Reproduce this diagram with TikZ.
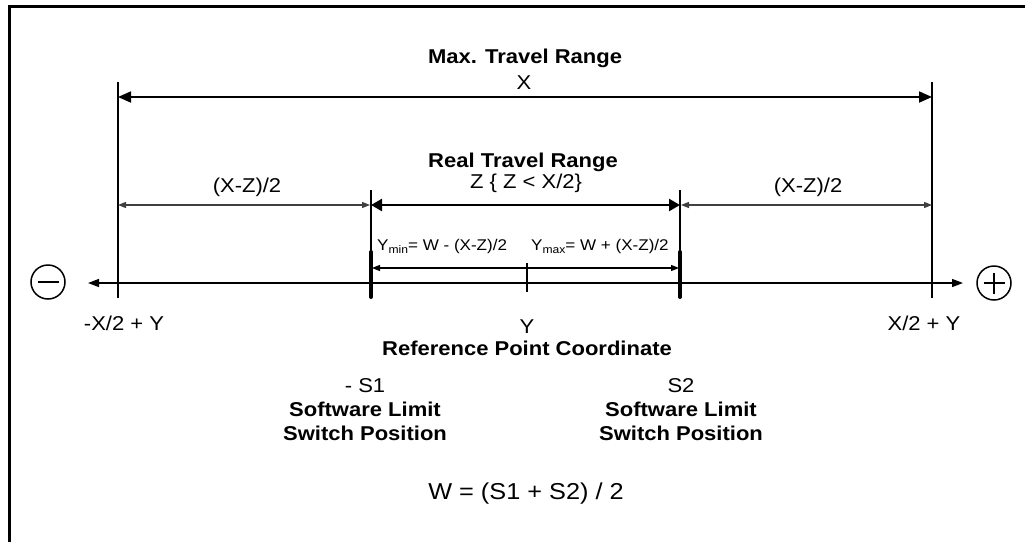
\documentclass[tikz,border=0pt]{standalone}
\usepackage{fontspec}
\setmainfont{Liberation Sans}[FakeStretch=1.1]
\usetikzlibrary{arrows.meta}
\begin{document}
\begin{tikzpicture}[x=1pt,y=-1pt,
  lbl/.style={anchor=base,inner sep=0pt,font=\fontsize{20}{24}\selectfont},
  blbl/.style={anchor=base,inner sep=0pt,font=\fontsize{20}{24}\selectfont\bfseries},
  slbl/.style={anchor=base west,inner sep=0pt,font=\fontsize{15.5}{18}\selectfont},
  bigdim/.style={line width=1.8pt,{Triangle[length=13pt,width=11pt]}-{Triangle[length=13pt,width=11pt]}},
  realdim/.style={line width=2.4pt,{Triangle[length=11pt,width=12pt]}-{Triangle[length=11pt,width=12pt]}},
  smalldim/.style={line width=1.2pt,black!75,{Triangle[length=8pt,width=6pt]}-{Triangle[length=8pt,width=6pt]}},
  axis/.style={line width=1.5pt,{Triangle[length=11pt,width=8pt]}-{Triangle[length=11pt,width=8pt]}},
  ext/.style={line width=1.2pt},
  tick/.style={line width=2.4pt},
  limit/.style={line width=4pt,line cap=round},
  sign/.style={circle,draw,line width=1.5pt,minimum size=34pt,inner sep=0pt}]
\useasboundingbox (0,0) rectangle (1025,542);
% frame
\draw[line width=3pt] (9,542) -- (9,6) -- (1025,6);
% coordinates
\coordinate (Ltop) at (118,82);
\coordinate (Ltk) at (118,268);
\coordinate (Lbot) at (118,298);
\coordinate (Rtop) at (932,82);
\coordinate (Rtk) at (932,268);
\coordinate (Rbot) at (932,298);
\coordinate (S1top) at (371,190);
\coordinate (S1tk) at (371,252);
\coordinate (S1bot) at (371,297);
\coordinate (S2top) at (680,190);
\coordinate (S2tk) at (680,252);
\coordinate (S2bot) at (680,297);
\coordinate (Ytop) at (527,263);
\coordinate (Ybot) at (527,292);
% extension lines and ticks
\draw[ext] (Ltop) -- (Ltk);
\draw[ext] (Rtop) -- (Rtk);
\draw[ext] (S1top) -- (S1tk);
\draw[ext] (S2top) -- (S2tk);
\draw[tick] (Ltk) -- (Lbot);
\draw[tick] (Rtk) -- (Rbot);
\draw[limit] (S1tk) -- (S1bot);
\draw[limit] (S2tk) -- (S2bot);
\draw[ext] (Ytop) -- (Ybot);
% dimension lines
\draw[bigdim] (118,97) -- (932,97);
\draw[realdim] (371,205) -- (680,205);
\draw[smalldim] (118,205) -- (370,205);
\draw[smalldim] (681,205) -- (932,205);
\draw[smalldim,black] (372,268) -- (679,268);
% signs and axis
\node[sign] (minus) at (48,282) {};
\node[sign] (plus) at (994,283) {};
\draw[line width=1.8pt] ([xshift=-10.5pt]minus.center) -- ([xshift=10.5pt]minus.center);
\draw[line width=1.8pt] ([xshift=-10.5pt]plus.center) -- ([xshift=10.5pt]plus.center);
\draw[line width=1.8pt] ([yshift=-10.5pt]plus.center) -- ([yshift=10.5pt]plus.center);
\draw[axis] (88,283) -- (963,283);
% texts
\node[blbl] (maxt) at (525,63) {Max. Travel Range};
\node[lbl] (xt) at (524,89) {X};
\node[blbl] (realt) at (523,167) {Real Travel Range};
\node[lbl] (zt) at (526,188) {Z \{ Z < X/2\}};
\node[lbl] (xzl) at (247,192) {(X-Z)/2};
\node[lbl] (xzr) at (808,192) {(X-Z)/2};
\node[slbl] (ymin) at (377,250) {Y\raisebox{-0.45ex}{\fontsize{11}{11}\selectfont min}= W - (X-Z)/2};
\node[slbl] (ymax) at (531,250) {Y\raisebox{-0.45ex}{\fontsize{11}{11}\selectfont max}= W + (X-Z)/2};
\node[lbl] (lpos) at (124,330) {-X/2 + Y};
\node[lbl] (rpos) at (924,330) {X/2 + Y};
\node[lbl] (yt) at (527,333) {Y};
\node[blbl] (reft) at (527,355) {Reference Point Coordinate};
\node[lbl] (s1) at (365,392) {- S1};
\node[blbl] (s1a) at (365,416) {Software Limit};
\node[blbl] (s1b) at (365,440) {Switch Position};
\node[lbl] (s2) at (681,392) {S2};
\node[blbl] (s2a) at (681,416) {Software Limit};
\node[blbl] (s2b) at (681,440) {Switch Position};
\node[lbl,font=\fontsize{23}{27}\selectfont] (wt) at (526,499) {W = (S1 + S2) / 2};
\end{tikzpicture}
\end{document}
